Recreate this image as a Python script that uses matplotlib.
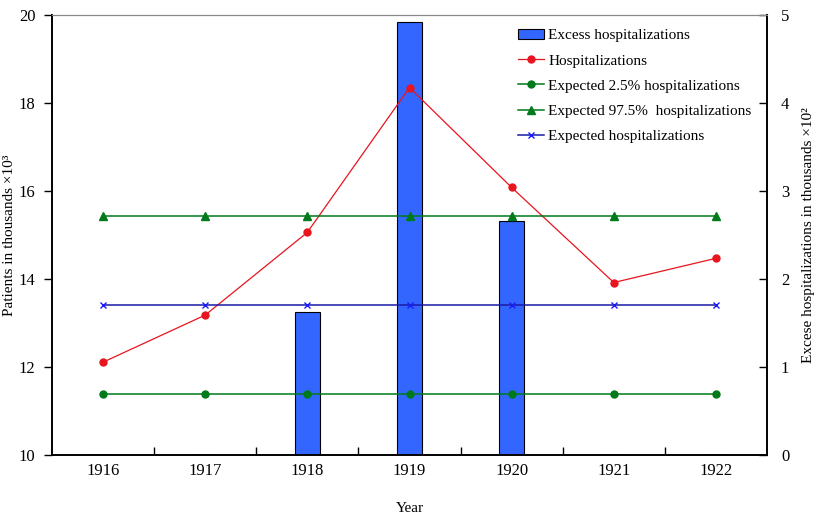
import matplotlib.pyplot as plt
import numpy as np

plt.rcParams["font.family"] = ["Liberation Serif", "DejaVu Serif"]

years = ["1916", "1917", "1918", "1919", "1920", "1921", "1922"]
hospitalizations = [12.11, 13.18, 15.06, 18.35, 16.08, 13.92, 14.47]
expected_low = [11.38, 11.38, 11.38, 11.38, 11.38, 11.38, 11.38]
expected_high = [15.44, 15.44, 15.44, 15.44, 15.44, 15.44, 15.44]
expected = [13.41, 13.41, 13.41, 13.41, 13.41, 13.41, 13.41]
excess = [0, 0, 1.63, 4.92, 2.66, 0, 0]

fig = plt.figure(figsize=(8.19, 5.19), dpi=100)
ax = fig.add_axes([52 / 819, 64 / 519, 715 / 819, 440 / 519])
ax2 = ax.twinx()

x = np.arange(len(years))

bars = ax2.bar(x, excess, width=0.25, color="#3366ff", edgecolor="black", linewidth=0.8,
               label="Excess hospitalizations")

l1, = ax.plot(x, hospitalizations, color="#e8141e", marker="o", markersize=5, linewidth=0.9,
              label="Hospitalizations")
l2, = ax.plot(x, expected_low, color="#007a1a", marker="o", markersize=5, linewidth=1.1,
              label="Expected 2.5% hospitalizations")
l3, = ax.plot(x, expected_high, color="#007a1a", marker="^", markersize=6, linewidth=1.1,
              label="Expected 97.5%  hospitalizations")
l4, = ax.plot(x, expected, color="#1a1aa8", marker="x", markersize=5, linewidth=1.1,
              markeredgecolor="#1a1aff", label="Expected hospitalizations")

# lines sit on top of the bars
ax.set_zorder(ax2.get_zorder() + 1)
ax.patch.set_visible(False)

ax.set_xlim(-0.5, 6.5)
ax.set_ylim(10, 20)
ax2.set_ylim(0, 5)

ax.set_xticks(x)
ax.set_xticklabels(years, fontsize=12)
ax.set_xticks(np.arange(0.5, 6.5, 1), minor=True)
ax.tick_params(axis="x", which="major", length=0, pad=6)
ax.tick_params(axis="x", which="minor", direction="in", length=6, width=1)
ax.set_yticks([10, 12, 14, 16, 18, 20])
ax.tick_params(axis="y", direction="out", length=6, width=1, labelsize=12, pad=6)
ax2.set_yticks([0, 1, 2, 3, 4, 5])
ax2.tick_params(axis="y", direction="in", length=6, width=1, labelsize=12, pad=10)

for spine in ["left", "bottom", "right"]:
    ax.spines[spine].set_linewidth(1.2)
    ax2.spines[spine].set_linewidth(1.2)
ax.spines["top"].set_color("#888888")
ax2.spines["top"].set_color("#888888")

ax.set_xlabel("Year", fontsize=11, labelpad=16)
ax.set_ylabel("Patients in thousands \u00d710\u00b3", fontsize=11, labelpad=2)
ax2.set_ylabel("Excese hospitalizations in thousands \u00d710\u00b2", fontsize=11, labelpad=9)

ax.legend(handles=[bars, l1, l2, l3, l4], loc="upper left", bbox_to_anchor=(0.632, 1.0),
          frameon=False, fontsize=11, handlelength=1.7, labelspacing=0.75, handletextpad=0.3)

fig.savefig("out.png", dpi=100)
